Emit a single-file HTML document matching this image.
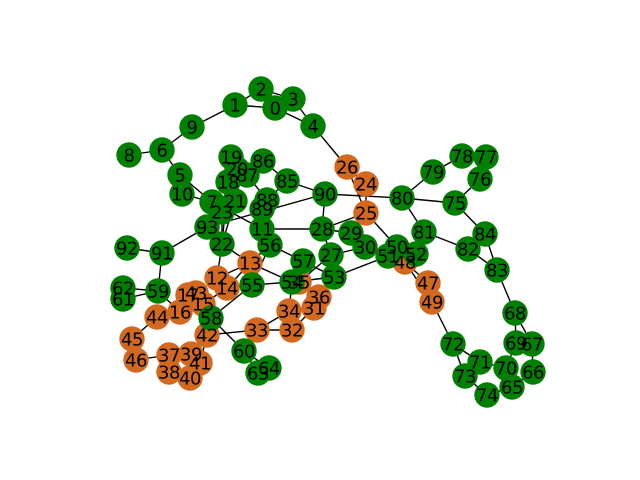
<!DOCTYPE html>
<html lang="en">
<head>
<meta charset="utf-8">
<title>Network graph</title>
<style>
html,body{margin:0;padding:0;background:#fff;width:640px;height:480px;overflow:hidden}
svg{display:block}
text{font-family:"DejaVu Sans","Liberation Sans",sans-serif;font-size:18px;letter-spacing:-0.5px;fill:#000;text-anchor:middle}
</style>
</head>
<body>
<svg id="chart" xmlns="http://www.w3.org/2000/svg" width="640" height="480" viewBox="0 0 640 480">
<g id="edges"></g>
<g id="nodes"></g>
<g id="labels"></g>
</svg>
<script>
const nodeX = [39.0,31.0,36.2,42.6,46.6,20.0,16.4,26.4,9.8,22.4,20.4,36.4,27.4,34.0,29.4,24.6,20.0,21.6,29.6,30.2,31.4,31.0,28.4,28.4,57.2,57.2,53.4,50.2,48.4,54.2,57.0,46.8,42.4,35.4,41.8,43.8,47.8,17.8,17.8,22.2,22.0,24.0,25.4,23.2,15.4,10.4,11.2,69.6,65.0,70.4,63.4,61.6,67.2,50.8,42.4,34.4,38.0,44.6,26.2,15.6,32.8,8.6,8.6,35.6,37.8,86.4,90.6,90.4,87.0,87.2,85.2,80.0,74.6,77.0,81.4,75.0,80.0,81.2,76.4,70.6,64.4,68.8,77.6,83.4,81.0,41.4,36.6,33.4,37.4,36.4,49.0,16.4,9.4,25.4];
const nodeY = [64.4,65.0,68.2,66.2,60.8,51.0,56.0,45.6,55.0,60.6,47.2,40.2,30.4,33.4,28.4,25.2,23.6,27.0,49.6,54.6,52.2,45.8,37.2,43.6,49.2,43.4,52.6,35.0,40.2,39.4,36.6,24.4,20.0,20.0,23.8,29.6,26.6,15.0,11.6,15.2,10.4,13.4,19.0,27.4,22.6,18.2,14.0,29.4,33.6,25.6,36.6,34.8,35.2,30.6,29.6,29.0,37.0,33.8,22.4,27.8,15.8,26.2,28.4,11.4,12.4,8.6,11.6,17.2,23.4,17.4,12.4,13.6,17.2,10.8,7.0,45.4,50.2,54.6,54.8,51.6,46.4,39.6,36.2,32.0,39.2,49.8,53.8,51.0,46.0,44.2,47.2,35.4,36.4,40.6];
const orangeNodes = [12,13,14,15,16,17,24,25,26,31,32,33,34,35,36,37,38,39,40,41,42,43,44,45,46,47,48,49];
const edgeSource = [0,0,0,1,1,2,3,4,6,6,5,5,7,7,7,7,18,19,20,86,87,85,85,85,88,90,23,93,91,91,91,59,59,61,59,16,17,43,15,12,22,22,13,13,13,13,11,11,56,56,11,28,28,28,28,29,27,27,57,53,53,55,55,58,58,58,42,42,33,33,32,31,34,34,35,60,63,60,37,37,45,44,38,39,39,40,24,24,25,25,80,80,80,80,81,81,50,50,48,48,47,49,72,72,71,71,73,70,74,69,68,68,67,67,66,68,83,83,82,75,75,76,77,78,23,18,21];
const edgeTarget = [1,2,4,2,9,3,4,26,9,8,6,7,10,21,23,11,19,20,87,87,88,86,88,90,89,93,93,22,93,92,59,62,61,62,16,17,43,15,14,13,13,12,14,54,56,55,56,89,57,55,28,29,25,27,90,30,30,53,53,51,54,54,58,42,60,15,33,41,34,32,34,32,32,54,27,63,64,64,38,46,46,45,40,41,40,41,26,25,26,50,90,79,75,81,82,52,52,51,47,49,49,72,71,73,70,73,74,65,65,70,69,67,69,66,65,83,84,82,84,84,76,77,78,79,22,22,22];

const ORANGE = '#d2691e';
const GREEN = '#008000';
const RADIUS = 12.7;

function xScale(v) { return 80 + v * 5; }
function yScale(v) { return 430 - v * 5; }

const SVG_NS = 'http://www.w3.org/2000/svg';
const edgeLayer = document.getElementById('edges');
const nodeLayer = document.getElementById('nodes');
const labelLayer = document.getElementById('labels');

edgeSource.forEach(function (s, i) {
  const t = edgeTarget[i];
  const line = document.createElementNS(SVG_NS, 'line');
  line.setAttribute('x1', xScale(nodeX[s]));
  line.setAttribute('y1', yScale(nodeY[s]));
  line.setAttribute('x2', xScale(nodeX[t]));
  line.setAttribute('y2', yScale(nodeY[t]));
  line.setAttribute('stroke', '#000');
  line.setAttribute('stroke-width', '1.39');
  
  
  edgeLayer.appendChild(line);
});

nodeX.forEach(function (x, i) {
  const circle = document.createElementNS(SVG_NS, 'circle');
  circle.setAttribute('cx', xScale(x));
  circle.setAttribute('cy', yScale(nodeY[i]));
  circle.setAttribute('r', RADIUS);
  circle.setAttribute('fill', orangeNodes.indexOf(i) >= 0 ? ORANGE : GREEN);
  
  
  nodeLayer.appendChild(circle);

  const label = document.createElementNS(SVG_NS, 'text');
  label.setAttribute('x', xScale(x));
  label.setAttribute('y', yScale(nodeY[i]) + 6.5);
  label.textContent = String(i);
  
  
  labelLayer.appendChild(label);
});
</script>
</body>
</html>
